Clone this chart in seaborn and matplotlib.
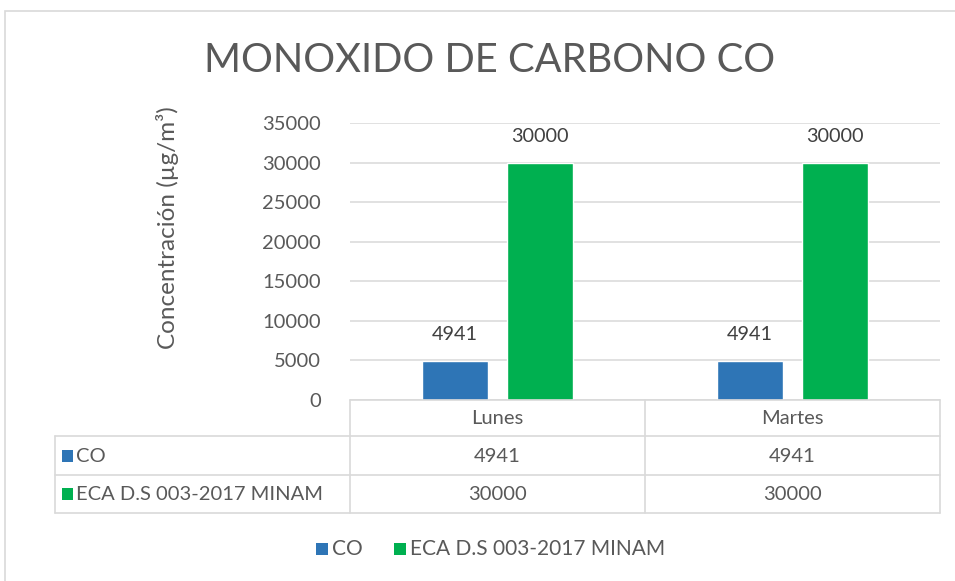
import matplotlib
matplotlib.use("Agg")
import matplotlib.pyplot as plt
import seaborn as sns
import pandas as pd
from matplotlib.lines import Line2D
from matplotlib.patches import Rectangle

days = ["Lunes", "Martes"]
series_names = ["CO", "ECA D.S 003-2017 MINAM"]
co_values = [4941, 4941]
eca_values = [30000, 30000]
yticks = [0, 5000, 10000, 15000, 20000, 25000, 30000, 35000]
title = "MONOXIDO DE CARBONO CO"
ylabel = "Concentración (µg/m³)"
colors = ["#2E75B6", "#00B050"]

sns.set_theme(style="white")
FONT = ["Lato", "DejaVu Sans"]
plt.rcParams["font.family"] = FONT
TXT = "#595959"
GRID = "#d9d9d9"
FS = 14.5

W, H = 955, 581
fig = plt.figure(figsize=(W / 100, H / 100), dpi=100)
fx = lambda x: x / W
fy = lambda y: 1 - y / H

# outer chart border
fig.add_artist(Rectangle((fx(5), fy(700)), fx(1100), fy(11) - fy(700),
                         transform=fig.transFigure, fill=False, edgecolor=GRID, lw=1.2))

ax = fig.add_axes([fx(350), fy(400), fx(940) - fx(350), fy(123) - fy(400)])

df = pd.DataFrame({
    "day": days * 2,
    "series": [series_names[0]] * len(days) + [series_names[1]] * len(days),
    "value": co_values + eca_values,
})
sns.barplot(data=df, x="day", y="value", hue="series", palette=colors,
            width=0.573, gap=0.22, ax=ax, legend=False, saturation=1)

ax.set_xlim(-0.5, 1.5)
ax.set_ylim(0, 35000)
ax.set_yticks(yticks)
ax.set_yticklabels([str(v) for v in yticks], fontsize=14.5, color=TXT)
ax.tick_params(axis="y", length=0, pad=21)
ax.set_xticks([])
ax.set_xlabel("")
ax.set_ylabel("")
for s in ax.spines.values():
    s.set_visible(False)
ax.yaxis.grid(True, color=GRID, lw=1.1)
ax.set_axisbelow(True)

for cont in ax.containers:
    ax.bar_label(cont, labels=[str(int(v)) for v in cont.datavalues],
                 padding=13, fontsize=14.3, color="#404040")

fig.text(fx(490), fy(61), title, ha="center", va="center", fontsize=28.7, color=TXT)
fig.text(fx(167), fy(228), ylabel, ha="center", va="center", rotation=90,
         fontsize=17.5, color=TXT)

# data table
def hline(y, x0, x1):
    fig.add_artist(Line2D([fx(x0), fx(x1)], [fy(y), fy(y)], color=GRID, lw=1.2,
                          transform=fig.transFigure))

def vline(x, y0, y1):
    fig.add_artist(Line2D([fx(x), fx(x)], [fy(y0), fy(y1)], color=GRID, lw=1.2,
                          transform=fig.transFigure))

hline(400, 350, 940)
hline(436, 55, 940)
hline(475, 55, 940)
hline(513, 55, 940)
for x in (350, 645, 940):
    vline(x, 400, 513)
vline(55, 436, 513)

cx = [497, 792]
for i, d in enumerate(days):
    fig.text(fx(cx[i]), fy(418), d, ha="center", va="center", fontsize=FS, color=TXT)
rows = [co_values, eca_values]
row_y = [456, 494]
for r, (name, vals) in enumerate(zip(series_names, rows)):
    fig.add_artist(Rectangle((fx(62), fy(row_y[r] + 6)), fx(11), fy(row_y[r] - 6) - fy(row_y[r] + 6),
                             transform=fig.transFigure, color=colors[r], lw=0))
    fig.text(fx(76), fy(row_y[r]), name, ha="left", va="center", fontsize=FS, color=TXT)
    for i, v in enumerate(vals):
        fig.text(fx(cx[i]), fy(row_y[r]), str(v), ha="center", va="center",
                 fontsize=FS, color=TXT)

# legend
leg_items = [(316, series_names[0]), (394, series_names[1])]
for k, (x, name) in enumerate(leg_items):
    fig.add_artist(Rectangle((fx(x), fy(555)), fx(12), fy(543) - fy(555),
                             transform=fig.transFigure, color=colors[k], lw=0))
    fig.text(fx(x + 16), fy(549), name, ha="left", va="center", fontsize=15, color=TXT)

fig.savefig("out.png", dpi=100)
